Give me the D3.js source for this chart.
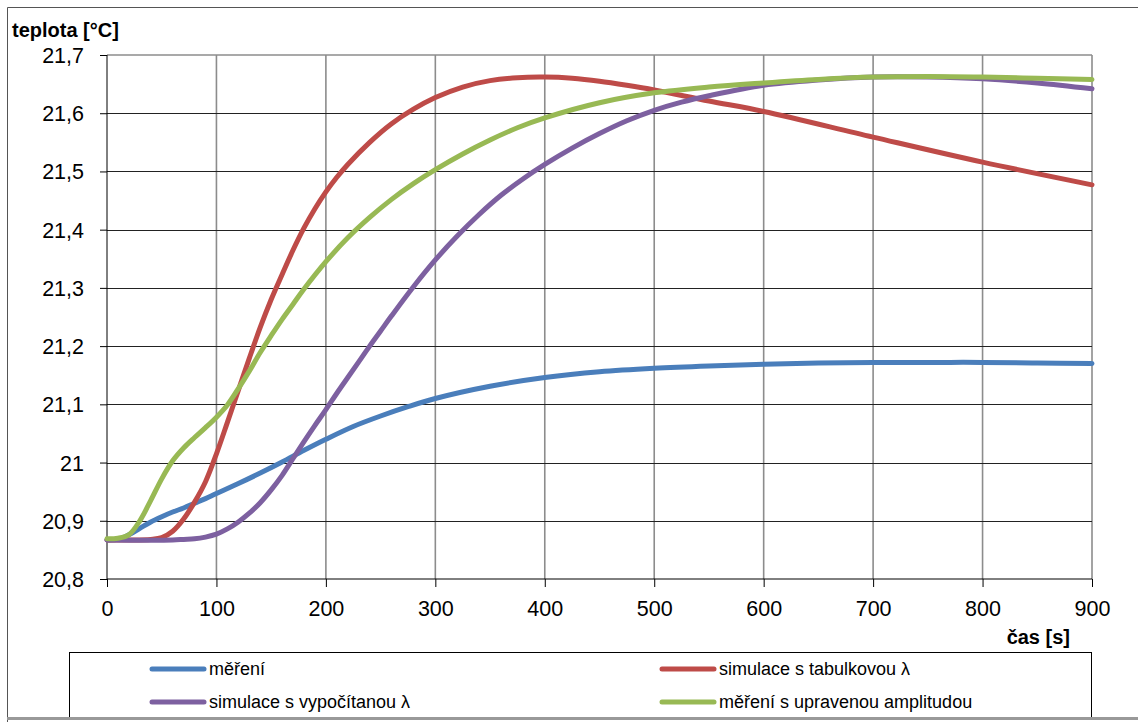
<!DOCTYPE html>
<html><head><meta charset="utf-8">
<script src="https://cdn.jsdelivr.net/npm/d3@7"></script>
<style>body{margin:0;background:#fff}svg{display:block;font-family:"Liberation Sans",Arial,sans-serif}</style>
</head><body><svg id="c" width="1138" height="722"></svg>
<script>
const seriesNames = ["měření","simulace s tabulkovou λ","simulace s vypočítanou λ","měření s upravenou amplitudou"];
const seriesColors = ["#4A7EBB","#BE4B48","#7D60A0","#98B954"];
const yTicks = [20.8,20.9,21.0,21.1,21.2,21.3,21.4,21.5,21.6,21.7];
const xTicks = [0,100,200,300,400,500,600,700,800,900];

const tMereni = [0,10,20,30,40,50,60,70,80,90,100,120,140,160,180,200,225,250,275,300,350,400,450,500,550,600,650,700,750,800,850,900];
const vMereni = [20.867,20.868,20.876,20.887,20.898,20.907,20.915,20.922,20.930,20.938,20.947,20.964,20.982,21.001,21.021,21.040,21.062,21.080,21.096,21.110,21.131,21.146,21.156,21.162,21.166,21.169,21.171,21.172,21.172,21.172,21.171,21.170];

const tTab = [0,20,40,50,60,70,80,90,100,110,120,130,140,150,160,170,180,190,200,210,220,240,260,280,300,325,350,375,400,425,450,475,500,550,600,700,800,900];
const vTab = [20.867,20.867,20.868,20.871,20.882,20.903,20.932,20.967,21.015,21.069,21.124,21.179,21.232,21.280,21.323,21.365,21.403,21.436,21.465,21.490,21.512,21.550,21.582,21.607,21.627,21.645,21.656,21.661,21.662,21.660,21.655,21.648,21.640,21.621,21.603,21.559,21.516,21.477];

const tVyp = [0,60,70,80,90,100,110,120,130,140,150,160,170,180,190,200,210,220,230,240,250,260,280,300,320,340,360,380,400,425,450,475,500,525,550,600,650,700,750,800,850,900];
const vVyp = [20.867,20.867,20.868,20.869,20.872,20.877,20.886,20.898,20.913,20.931,20.953,20.978,21.007,21.036,21.064,21.091,21.119,21.146,21.173,21.200,21.226,21.252,21.302,21.348,21.389,21.426,21.459,21.487,21.512,21.540,21.565,21.587,21.605,21.619,21.630,21.648,21.657,21.662,21.662,21.659,21.652,21.642];

const tAmp = [0,10,20,30,40,50,60,70,80,90,100,110,120,130,140,150,160,170,180,200,220,240,260,280,300,325,350,375,400,450,500,550,600,650,700,750,800,850,900];
const vAmp = [20.869,20.870,20.876,20.900,20.935,20.972,21.003,21.025,21.043,21.060,21.078,21.099,21.127,21.157,21.189,21.218,21.246,21.272,21.298,21.345,21.386,21.421,21.452,21.479,21.503,21.530,21.554,21.575,21.592,21.618,21.635,21.645,21.652,21.658,21.662,21.663,21.662,21.660,21.658];

const seriesT = [tMereni,tTab,tVyp,tAmp];
const seriesV = [vMereni,vTab,vVyp,vAmp];

const svg = d3.select("#c");
const x = d3.scaleLinear().domain([0,900]).range([107,1092]);
const y = d3.scaleLinear().domain([20.8,21.7]).range([579,55]);

// outer border
svg.append("path").attr("d","M7.5,722 L7.5,7.5 L1138,7.5").attr("fill","none").attr("stroke","#555").attr("stroke-width",1);
svg.append("line").attr("x1",7).attr("x2",1138).attr("y1",718.5).attr("y2",718.5).attr("stroke","#999").attr("stroke-width",3);

// vertical gridlines
svg.append("g").selectAll("line").data(xTicks.slice(1)).join("line")
  .attr("x1",d=>x(d)).attr("x2",d=>x(d)).attr("y1",y(21.7)).attr("y2",y(20.8))
  .attr("stroke","#8c8c8c").attr("stroke-width",1.6);
// horizontal gridlines
svg.append("g").selectAll("line").data(yTicks.slice(1,-1)).join("line")
  .attr("x1",x(0)).attr("x2",x(900)).attr("y1",d=>Math.round(y(d))+0.5).attr("y2",d=>Math.round(y(d))+0.5)
  .attr("stroke","#222").attr("stroke-width",1.2);
svg.append("line").attr("x1",x(0)).attr("x2",x(900)).attr("y1",y(21.7)).attr("y2",y(21.7)).attr("stroke","#8c8c8c").attr("stroke-width",1.6);

// axes
const yAxis = d3.axisLeft(y).tickValues(yTicks).tickSize(7).tickPadding(16)
  .tickFormat(d=>d3.format(".1f")(d).replace(".",",").replace(",0",""));
const gy = svg.append("g").attr("transform",`translate(${x(0)},0)`).call(yAxis);
gy.selectAll("text").attr("font-size",21.5).attr("fill","#000").attr("dy","0.35em");
gy.select(".domain").attr("d",`M0,${y(20.8)}V${y(21.7)}`).attr("stroke","#000");
gy.selectAll(".tick line").attr("stroke","#000");

const xAxis = d3.axisBottom(x).tickValues(xTicks).tickSize(8).tickPadding(14).tickFormat(d3.format("d"));
const gx = svg.append("g").attr("transform",`translate(0,${y(20.8)})`).call(xAxis);
gx.selectAll("text").attr("font-size",21.5).attr("fill","#000");
gx.select(".domain").attr("d",`M${x(0)},0H${x(900)}`).attr("stroke","#000");
gx.selectAll(".tick line").attr("stroke","#000");

svg.selectAll("text").attr("font-family","Liberation Sans, Arial, sans-serif");

// lines
const line = d3.line().x(d=>x(d[0])).y(d=>y(d[1])).curve(d3.curveCatmullRom.alpha(0.5));
seriesT.forEach((ts,i)=>{
  const pts = ts.map((t,j)=>[t,seriesV[i][j]]);
  svg.append("path").datum(pts).attr("d",line).attr("fill","none")
    .attr("stroke",seriesColors[i]).attr("stroke-width",5).attr("stroke-linecap","round").attr("stroke-linejoin","round");
});

// titles
svg.append("text").attr("x",12).attr("y",37).attr("font-size",20).attr("font-weight","bold").text("teplota [°C]");
svg.append("text").attr("x",1070).attr("y",644).attr("text-anchor","end").attr("font-size",20).attr("font-weight","bold").text("čas [s]");

// legend
svg.append("rect").attr("x",69.5).attr("y",652.5).attr("width",1022).attr("height",66).attr("fill","#fff").attr("stroke","#000").attr("stroke-width",1);
svg.append("line").attr("x1",69).attr("x2",1093).attr("y1",718.5).attr("y2",718.5).attr("stroke","#999").attr("stroke-width",3);
const legPos = [[152,669],[662,669],[152,702],[662,702]];
seriesNames.forEach((n,i)=>{
  const [lx,ly] = legPos[i];
  svg.append("line").attr("x1",lx).attr("x2",lx+52).attr("y1",ly).attr("y2",ly)
    .attr("stroke",seriesColors[i]).attr("stroke-width",5).attr("stroke-linecap","round");
  svg.append("text").attr("x",lx+57).attr("y",ly).attr("dy","0.35em").attr("font-size",18).text(n);
});
</script></body></html>
